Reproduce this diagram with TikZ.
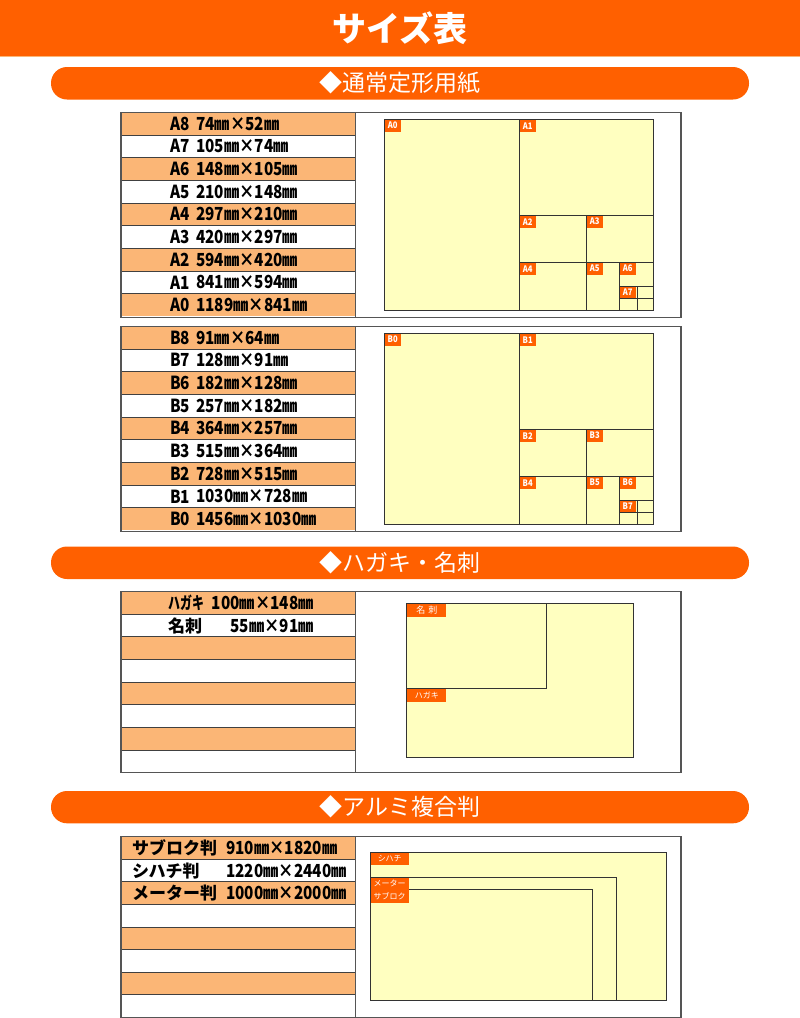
\documentclass[tikz,border=0pt]{standalone}
\usepackage{fontspec}
\usepackage{xcolor}
\setmainfont{Noto Sans CJK JP}
\newfontfamily\numfont[FakeStretch=0.85]{Noto Sans CJK JP}
\newfontfamily\kananarrow[FakeStretch=0.7]{Noto Sans CJK JP}
\definecolor{headorange}{HTML}{FF6000}
\definecolor{rowpeach}{HTML}{FBB676}
\definecolor{paperyellow}{HTML}{FFFFC0}
\definecolor{framegray}{HTML}{555555}

\begin{document}
\begin{tikzpicture}[x=1pt,y=-1pt,
  banner/.style={fill=headorange,rounded corners=16pt},
  bannertext/.style={text=white,font=\fontsize{23}{23}\selectfont},
  sizebox/.style={draw=framegray,line width=1.3pt},
  rowline/.style={draw=black!75,line width=0.9pt},
  sheet/.style={draw=black!80,line width=1pt,fill=paperyellow},
  cut/.style={draw=black!80,line width=1pt},
  tag/.style={fill=headorange,text=white,inner sep=0pt,anchor=north west,
    minimum width=16pt,minimum height=12pt,font=\numfont\bfseries\fontsize{9}{9}\selectfont},
  widetag/.style={tag,minimum width=38pt,minimum height=12.5pt,font=\fontsize{8}{8}\selectfont},
  rowtext/.style={anchor=west,inner sep=0pt,font=\numfont\bfseries\fontsize{18}{18}\selectfont},
  kanatext/.style={anchor=west,inner sep=0pt,font=\bfseries\fontsize{17}{17}\selectfont}]

  \useasboundingbox (0,0) rectangle (800,1018);

  % Title bar
  \fill[headorange] (0,0) rectangle (800,56);
  \fill[rowpeach] (0,56) rectangle (800,57);
  \node[text=white,font=\bfseries\fontsize{34}{34}\selectfont] (title) at (400,28) {サイズ表};

  % Standard paper
  \fill[banner] (51,67) rectangle (749,99.5);
  \node[bannertext] (standard) at (400,83) {◆通常定形用紙};

  % A series table
  \begin{scope}
    \foreach \i in {0,2,...,8}
      \fill[rowpeach] (121,{112.3+\i*22.67}) rectangle (355.5,{112.3+(\i+1)*22.67});
    \foreach \i in {1,...,8}
      \draw[rowline] (121,{112.3+\i*22.67}) -- (355.5,{112.3+\i*22.67});
    \foreach \name/\size [count=\i from 0] in {A8/74㎜×52㎜,A7/105㎜×74㎜,A6/148㎜×105㎜,
        A5/210㎜×148㎜,A4/297㎜×210㎜,A3/420㎜×297㎜,A2/594㎜×420㎜,A1/841㎜×594㎜,A0/1189㎜×841㎜}
      \node[rowtext] (name\name) at (170,{123.6+\i*22.67}) {\name}
        node[rowtext] (size\name) at (196,{123.6+\i*22.67}) {\size};
    \draw[sizebox] (121,112.3) rectangle (681,317.3);
    \draw[sizebox] (355.5,112.3) -- (355.5,317.3);
  \end{scope}

  % B series table
  \begin{scope}[shift={(0,214)}]
    \foreach \i in {0,2,...,8}
      \fill[rowpeach] (121,{112.3+\i*22.67}) rectangle (355.5,{112.3+(\i+1)*22.67});
    \foreach \i in {1,...,8}
      \draw[rowline] (121,{112.3+\i*22.67}) -- (355.5,{112.3+\i*22.67});
    \foreach \name/\size [count=\i from 0] in {B8/91㎜×64㎜,B7/128㎜×91㎜,B6/182㎜×128㎜,
        B5/257㎜×182㎜,B4/364㎜×257㎜,B3/515㎜×364㎜,B2/728㎜×515㎜,B1/1030㎜×728㎜,B0/1456㎜×1030㎜}
      \node[rowtext] (name\name) at (170,{123.6+\i*22.67}) {\name}
        node[rowtext] (size\name) at (196,{123.6+\i*22.67}) {\size};
    \draw[sizebox] (121,112.3) rectangle (681,317.3);
    \draw[sizebox] (355.5,112.3) -- (355.5,317.3);
  \end{scope}

  % A and B sheets cut in halves
  \foreach \s/\dy in {A/0,B/214} {
    \begin{scope}[shift={(0,\dy)}]
      \draw[sheet] (384,119) rectangle (653,310);
      \draw[cut] (519,119) -- (519,310);
      \draw[cut] (519,215) -- (653,215);
      \draw[cut] (519,262) -- (653,262);
      \draw[cut] (586,215) -- (586,310);
      \draw[cut] (619,262) -- (619,310);
      \draw[cut] (619,286) -- (653,286);
      \draw[cut] (637,286) -- (637,310);
      \draw[cut] (619,298) -- (653,298);
      \node[tag] (tag\s0) at (384.5,119.5) {\s0};
      \node[tag] (tag\s1) at (519.5,119.5) {\s1};
      \node[tag] (tag\s2) at (519.5,215.5) {\s2};
      \node[tag] (tag\s3) at (586.5,215.5) {\s3};
      \node[tag] (tag\s4) at (519.5,262.5) {\s4};
      \node[tag] (tag\s5) at (586.5,262.5) {\s5};
      \node[tag] (tag\s6) at (619.5,262.5) {\s6};
      \node[tag,minimum width=16pt,minimum height=11pt] (tag\s7) at (619.5,286.5) {\s7};
    \end{scope}
  }

  % Postcard and business card
  \fill[banner] (51,546.5) rectangle (749,579);
  \node[bannertext] (postcard) at (400,563) {◆ハガキ・名刺};
  \begin{scope}
    \foreach \i in {0,2,...,6}
      \fill[rowpeach] (121,{591.7+\i*22.62}) rectangle (355.5,{591.7+(\i+1)*22.62});
    \foreach \i in {1,...,7}
      \draw[rowline] (121,{591.7+\i*22.62}) -- (355.5,{591.7+\i*22.62});
    \node[kanatext,font=\kananarrow\bfseries\fontsize{17}{17}\selectfont] (hagakiname) at (168,603) {ハガキ};
    \node[rowtext,anchor=east] (hagakisize) at (314,603) {100㎜×148㎜};
    \node[kanatext] (meishiname) at (168,625.6) {名刺};
    \node[rowtext,anchor=east] (meishisize) at (314,625.6) {55㎜×91㎜};
    \draw[sizebox] (121,591.7) rectangle (681,772.7);
    \draw[sizebox] (355.5,591.7) -- (355.5,772.7);

    \draw[sheet] (406.6,603.3) rectangle (633.7,757.7);
    \draw[sheet] (406.6,603.3) rectangle (546.4,688.7);
    \node[widetag,minimum width=39pt,font=\fontsize{9}{9}\selectfont] (tagmeishi) at (407.1,603.8) {名\,\,刺};
    \node[widetag,minimum width=39pt] (taghagaki) at (407.1,689.2) {ハガキ};
  \end{scope}

  % Aluminium composite panels
  \fill[banner] (51,791) rectangle (749,823.3);
  \node[bannertext] (aluminium) at (400,807) {◆アルミ複合判};
  \begin{scope}
    \foreach \i in {0,2,...,6}
      \fill[rowpeach] (121,{836.7+\i*22.58}) rectangle (355.5,{836.7+(\i+1)*22.58});
    \foreach \i in {1,...,7}
      \draw[rowline] (121,{836.7+\i*22.58}) -- (355.5,{836.7+\i*22.58});
    \node[kanatext] (saburokuname) at (132,848) {サブロク判};
    \node[rowtext] (saburokusize) at (226,848) {910㎜×1820㎜};
    \node[kanatext] (shihachiname) at (132,870.6) {シハチ判};
    \node[rowtext] (shihachisize) at (226,870.6) {1220㎜×2440㎜};
    \node[kanatext] (metername) at (132,893.2) {メーター判};
    \node[rowtext] (metersize) at (226,893.2) {1000㎜×2000㎜};
    \draw[sizebox] (121,836.7) rectangle (681,1017.3);
    \draw[sizebox] (355.5,836.7) -- (355.5,1017.3);

    \draw[sheet] (370,852) rectangle (666,1000.3);
    \draw[sheet] (370,877.3) rectangle (616.7,1000.3);
    \draw[sheet] (370,889.3) rectangle (592.3,1000.3);
    \node[widetag] (tagshihachi) at (370.5,852.5) {シハチ};
    \node[widetag,minimum height=11.5pt] (tagmeter) at (370.5,877.8) {メーター};
    \node[widetag] (tagsaburoku) at (370.5,889.8) {サブロク};
  \end{scope}
\end{tikzpicture}
\end{document}
